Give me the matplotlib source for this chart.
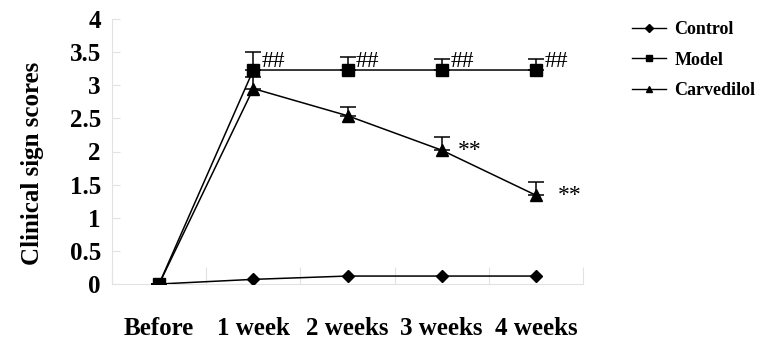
import matplotlib

matplotlib.use("Agg")

import matplotlib.pyplot as plt
from matplotlib.lines import Line2D
import numpy as np

categories = ["Before", "1 week", "2 weeks", "3 weeks", "4 weeks"]
control = [0.0, 0.07, 0.12, 0.12, 0.12]
model = [0.0, 3.23, 3.23, 3.23, 3.23]
model_err = [0.0, 0.27, 0.19, 0.17, 0.17]
carvedilol = [0.0, 2.95, 2.54, 2.02, 1.34]
carvedilol_err = [0.0, 0.18, 0.13, 0.20, 0.20]
model_marks = ["", "##", "##", "##", "##"]
carvedilol_marks = ["", "", "", "**", "**"]

plt.rcParams["font.family"] = ["Liberation Serif", "DejaVu Serif"]

fig = plt.figure(figsize=(7.65, 3.41), dpi=100)
ax = fig.add_axes([112 / 765, 1 - 284 / 341, 471 / 765, 265 / 341])

x = np.arange(len(categories))
zeros = np.zeros(len(x))

ax.plot(x, control, color="black", linewidth=1.1, marker="D", markersize=6,
        zorder=3)
ax.errorbar(x, model, yerr=[zeros, model_err], color="black", linewidth=1.1,
            marker="s", markersize=8, capsize=6, elinewidth=1.1, capthick=1.1,
            zorder=4)
ax.errorbar(x, carvedilol, yerr=[zeros, carvedilol_err], color="black",
            linewidth=1.1, marker="^", markersize=9, capsize=6, elinewidth=1.1,
            capthick=1.1, zorder=3)

for xi, yi, m in zip(x, model, model_marks):
    if m:
        ax.text(xi + 0.09, yi + 0.13, m, fontsize=17, ha="left", va="center")
for xi, yi, m in zip(x, carvedilol, carvedilol_marks):
    if m:
        off = 0.23 if xi == 4 else 0.17
        ax.text(xi + off, yi + 0.0, m, fontsize=17, ha="left", va="center")

ax.set_xlim(-0.5, len(categories) - 0.5)
ax.set_ylim(0, 4)
ax.set_yticks(np.arange(0, 4.01, 0.5))
ax.set_yticklabels(["0", "0.5", "1", "1.5", "2", "2.5", "3", "3.5", "4"],
                   fontsize=18, fontweight="bold")
ax.set_xticks(np.arange(-0.5, len(categories), 1.0), minor=False)
ax.set_xticklabels([])
ax.set_xticks(x, minor=True)
ax.set_xticklabels(categories, minor=True, fontsize=18, fontweight="bold")
ax.tick_params(axis="x", which="major", direction="in", length=12,
               color="#e2e2e2", width=0.8)
ax.tick_params(axis="x", which="minor", length=0, pad=24)
ax.tick_params(axis="y", direction="in", length=6, color="#e2e2e2", width=0.8,
               pad=8)

for side in ["top", "right"]:
    ax.spines[side].set_visible(False)
for side in ["left", "bottom"]:
    ax.spines[side].set_color("#e2e2e2")
    ax.spines[side].set_linewidth(0.8)

ax.set_ylabel("Clinical sign scores", fontsize=18, fontweight="bold")
ax.yaxis.set_label_coords(-0.144, 0.455)

handles = [
    Line2D([], [], color="black", linewidth=1.0, marker="D", markersize=4),
    Line2D([], [], color="black", linewidth=1.0, marker="s", markersize=5),
    Line2D([], [], color="black", linewidth=1.0, marker="^", markersize=5),
]
fig.legend(handles, ["Control", "Model", "Carvedilol"], loc="upper left",
           bbox_to_anchor=(623 / 765, 1 - 12 / 341), frameon=False,
           borderpad=0, prop={"weight": "bold", "size": 13}, handlelength=1.9,
           handletextpad=0.45, labelspacing=0.75)

fig.savefig("out.png", dpi=100)
